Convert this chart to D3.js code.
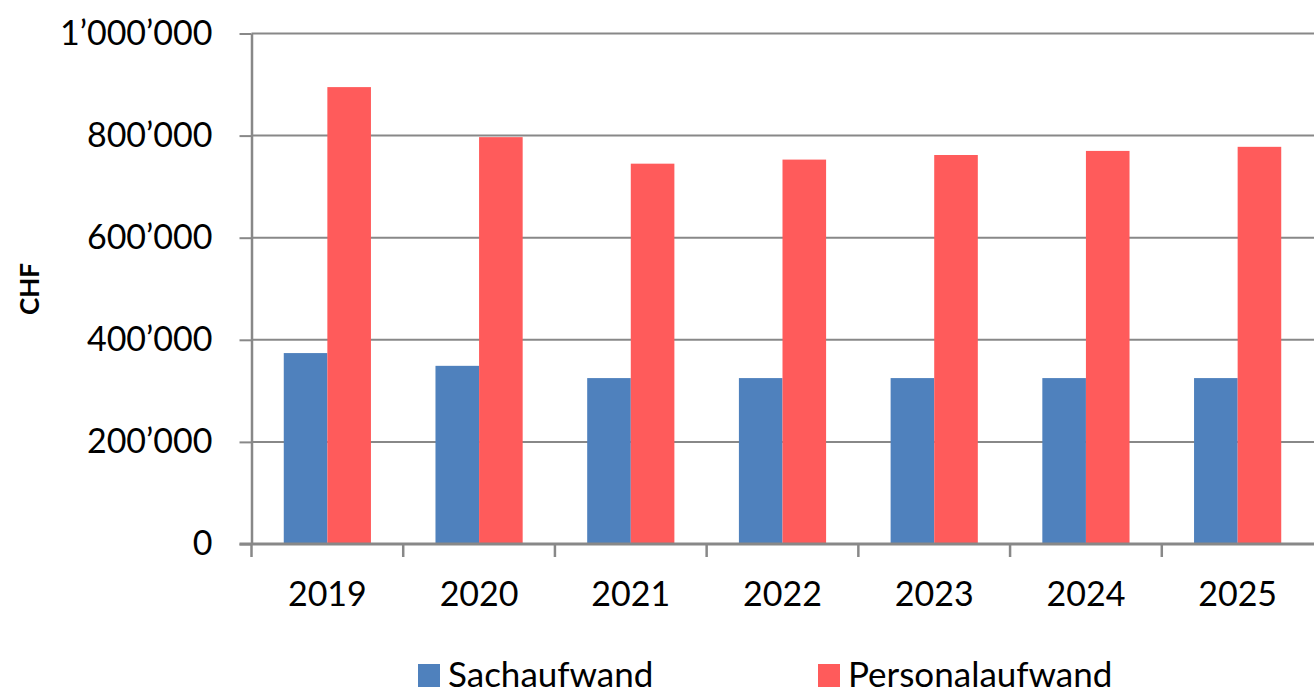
<!DOCTYPE html>
<html>
<head>
<meta charset="utf-8">
<script src="https://cdn.jsdelivr.net/npm/d3@7"></script>
<style>
  body { margin: 0; background: #fff; }
  svg { display: block; font-family: Lato, "Open Sans", sans-serif; }
</style>
</head>
<body>
<div id="root"></div>
<script>
const years = ['2019', '2020', '2021', '2022', '2023', '2024', '2025']
const seriesNames = ['Sachaufwand', 'Personalaufwand']
const sachaufwand = [374000, 349000, 325000, 325000, 325000, 325000, 325000]
const personalaufwand = [895000, 797000, 745000, 753000, 762000, 770000, 778000]
const yTicks = [0, 200000, 400000, 600000, 800000, 1000000]
const colors = ['#4f81bd', '#ff5b5b']

const w = 1314
const h = 690

const plot = { left: 251.5, right: 1313.5, top: 33.5, bottom: 544 }

const svg = d3.select('#root')
  .append('svg')
  .attr('width', w)
  .attr('height', h)

const x = d3.scaleBand()
  .domain(years)
  .range([plot.left, plot.right])

const x1 = d3.scaleBand()
  .domain(seriesNames)
  .range([0, x.bandwidth()])
  .paddingOuter(0.74)

const y = d3.scaleLinear()
  .domain([0, 1000000])
  .range([plot.bottom, plot.top])

const fmt = v => d3.format(',')(v).replace(/,/g, '\u2019')

// gridlines
svg.append('g')
  .selectAll('line')
  .data(yTicks.slice(1))
  .enter()
  .append('line')
    .attr('x1', plot.left)
    .attr('x2', w)
    .attr('y1', d => y(d))
    .attr('y2', d => y(d))
    .attr('stroke', '#888')
    .attr('stroke-width', 2)

const rows = years.map((yr, i) => ({ year: yr, values: [sachaufwand[i], personalaufwand[i]] }))

svg.append('g')
  .selectAll('g')
  .data(rows)
  .enter()
  .append('g')
    .attr('transform', d => 'translate(' + x(d.year) + ',0)')
  .selectAll('rect')
  .data(d => d.values.map((v, j) => ({ key: seriesNames[j], value: v, j: j })))
  .enter()
  .append('rect')
    .attr('x', d => x1(d.key))
    .attr('y', d => y(d.value))
    .attr('width', x1.bandwidth())
    .attr('height', d => y(0) - y(d.value))
    .attr('fill', d => colors[d.j])

// y axis
const yAxis = d3.axisLeft(y)
  .tickValues(yTicks)
  .tickFormat(fmt)
  .tickSize(12)
  .tickSizeOuter(0)
  .tickPadding(27)

const yg = svg.append('g')
  .attr('transform', 'translate(' + plot.left + ',0)')
  .call(yAxis)
yg.select('.domain').attr('stroke', '#888').attr('stroke-width', 2.5)
yg.selectAll('.tick line').attr('stroke', '#888').attr('stroke-width', 2)
yg.selectAll('.tick text')
  .attr('font-size', 34)
  .attr('fill', '#000')
  .attr('font-family', 'Lato, sans-serif')

// x axis
const xAxis = d3.axisBottom(x)
  .tickSize(0)
  .tickPadding(38)

const xg = svg.append('g')
  .attr('transform', 'translate(0,' + plot.bottom + ')')
  .call(xAxis)
xg.select('.domain').remove()
xg.selectAll('.tick text')
  .attr('font-size', 34)
  .attr('fill', '#000')
  .attr('font-family', 'Lato, sans-serif')

svg.append('line')
  .attr('x1', plot.left - 12)
  .attr('x2', w)
  .attr('y1', plot.bottom)
  .attr('y2', plot.bottom)
  .attr('stroke', '#888')
  .attr('stroke-width', 3)

svg.append('g')
  .selectAll('line')
  .data(years)
  .enter()
  .append('line')
    .attr('x1', d => x(d))
    .attr('x2', d => x(d))
    .attr('y1', plot.bottom)
    .attr('y2', plot.bottom + 13)
    .attr('stroke', '#888')
    .attr('stroke-width', 2.5)

// axis title
svg.append('text')
  .attr('transform', 'translate(39,289) rotate(-90)')
  .attr('text-anchor', 'middle')
  .attr('font-size', 26)
  .attr('font-weight', 'bold')
  .text('CHF')

// legend
const legendX = [418, 818]
const legend = svg.append('g')
  .selectAll('g')
  .data(seriesNames)
  .enter()
  .append('g')
    .attr('transform', (d, i) => 'translate(' + legendX[i] + ',664)')

legend.append('rect')
  .attr('width', 22)
  .attr('height', 23)
  .attr('fill', (d, i) => colors[i])

legend.append('text')
  .attr('x', 30)
  .attr('y', 23)
  .attr('font-size', 35)
  .attr('fill', '#000')
  .text(d => d)
</script>
</body>
</html>
